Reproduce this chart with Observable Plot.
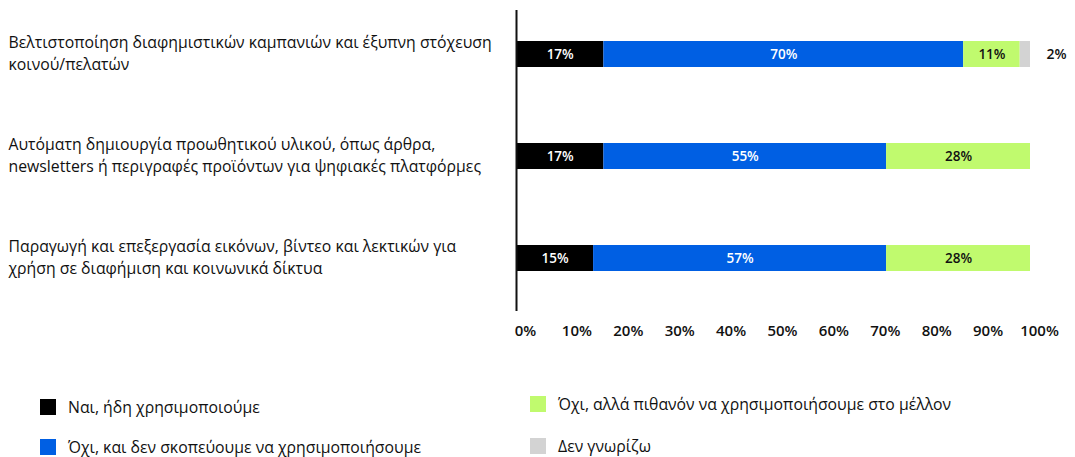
<!DOCTYPE html>
<html>
<head>
<meta charset="utf-8">
<script src="https://cdn.jsdelivr.net/npm/d3@7"></script>
<script src="https://cdn.jsdelivr.net/npm/@observablehq/plot@0.6"></script>
<style>
  body { margin: 0; background: #fff; font-family: "Open Sans", "Noto Sans", sans-serif; }
  #wrap { position: relative; width: 1075px; height: 457px; overflow: hidden; }
  #legend .item { position: absolute; display: flex; align-items: center; font-size: 15.8px; color: #111; line-height: 18px; }
  #legend .sw { width: 16px; height: 16px; margin-right: 12px; flex: none; }
</style>
</head>
<body>
<div id="wrap">
  <div id="chart"></div>
  <div id="legend"></div>
</div>
<script>
const categories = [
  "Βελτιστοποίηση διαφημιστικών καμπανιών και έξυπνη στόχευση\nκοινού/πελατών",
  "Αυτόματη δημιουργία προωθητικού υλικού, όπως άρθρα,\nnewsletters ή περιγραφές προϊόντων για ψηφιακές πλατφόρμες",
  "Παραγωγή και επεξεργασία εικόνων, βίντεο και λεκτικών για\nχρήση σε διαφήμιση και κοινωνικά δίκτυα"
];
const seriesNames = [
  "Ναι, ήδη χρησιμοποιούμε",
  "Όχι, και δεν σκοπεύουμε να χρησιμοποιήσουμε",
  "Όχι, αλλά πιθανόν να χρησιμοποιήσουμε στο μέλλον",
  "Δεν γνωρίζω"
];
const yesAlready = [17, 17, 15];
const noNever = [70, 55, 57];
const maybeFuture = [11, 28, 28];
const dontKnow = [2, 0, 0];
const seriesColors = ["#000000", "#005fe3", "#c0fa6e", "#d3d3d3"];
const labelColors = ["#ffffff", "#ffffff", "#111111", "#111111"];
const xTicks = [0, 10, 20, 30, 40, 50, 60, 70, 80, 90, 100];

const seriesValues = [yesAlready, noNever, maybeFuture, dontKnow];
const rows = [];
categories.forEach((c, i) => {
  seriesValues.forEach((vals, s) => {
    if (vals[i] > 0) rows.push({category: c, series: seriesNames[s], si: s, value: vals[i]});
  });
});

const font = "'Open Sans', 'Noto Sans', sans-serif";
const chart = Plot.plot({
  width: 1075,
  height: 350,
  marginLeft: 516,
  marginRight: 45,
  marginTop: 10,
  marginBottom: 39,
  style: {fontFamily: font, background: "#fff"},
  x: {domain: [0, 100], axis: null, label: null},
  y: {domain: categories, paddingInner: 0.746, paddingOuter: 0.34, align: 0.44, axis: null, label: null},
  color: {domain: seriesNames, range: seriesColors},
  marks: [
    Plot.barX(rows, Plot.stackX({x: "value", y: "category", fill: "series", order: "si"})),
    Plot.text(rows, Plot.stackX({
      x: "value", y: "category", order: "si",
      text: d => d.si < 3 ? d.value + "%" : null,
      fill: d => labelColors[d.si],
      fontSize: 13.5, fontWeight: 600
    })),
    Plot.text(rows, Plot.stackX2({
      x: "value", y: "category", order: "si",
      text: d => d.si === 3 ? d.value + "%" : null,
      fill: "#111", fontSize: 14, fontWeight: 600, textAnchor: "start", dx: 16
    })),
    Plot.axisY({
      label: null, tickSize: 0, textAnchor: "start", dx: -508, dy: -3,
      fontSize: 15.8, lineHeight: 1.4, fill: "#111", tickPadding: 0
    }),
    Plot.axisX({
      label: null, ticks: xTicks, tickSize: 0, tickPadding: 14, tickFormat: d => d + "%",
      fontSize: 15, fontWeight: 600, fill: "#111", dx: 9
    }),
    Plot.ruleX([0], {stroke: "#111", strokeWidth: 2})
  ]
});
document.getElementById("chart").appendChild(chart);

const legendPos = [
  {left: 40, top: 398},
  {left: 40, top: 438},
  {left: 530, top: 395},
  {left: 530, top: 437}
];
const legend = document.getElementById("legend");
seriesNames.forEach((name, i) => {
  const item = document.createElement("div");
  item.className = "item";
  item.style.left = legendPos[i].left + "px";
  item.style.top = legendPos[i].top + "px";
  const sw = document.createElement("span");
  sw.className = "sw";
  sw.style.background = seriesColors[i];
  const t = document.createElement("span");
  t.textContent = name;
  item.appendChild(sw);
  item.appendChild(t);
  legend.appendChild(item);
});
</script>
</body>
</html>
